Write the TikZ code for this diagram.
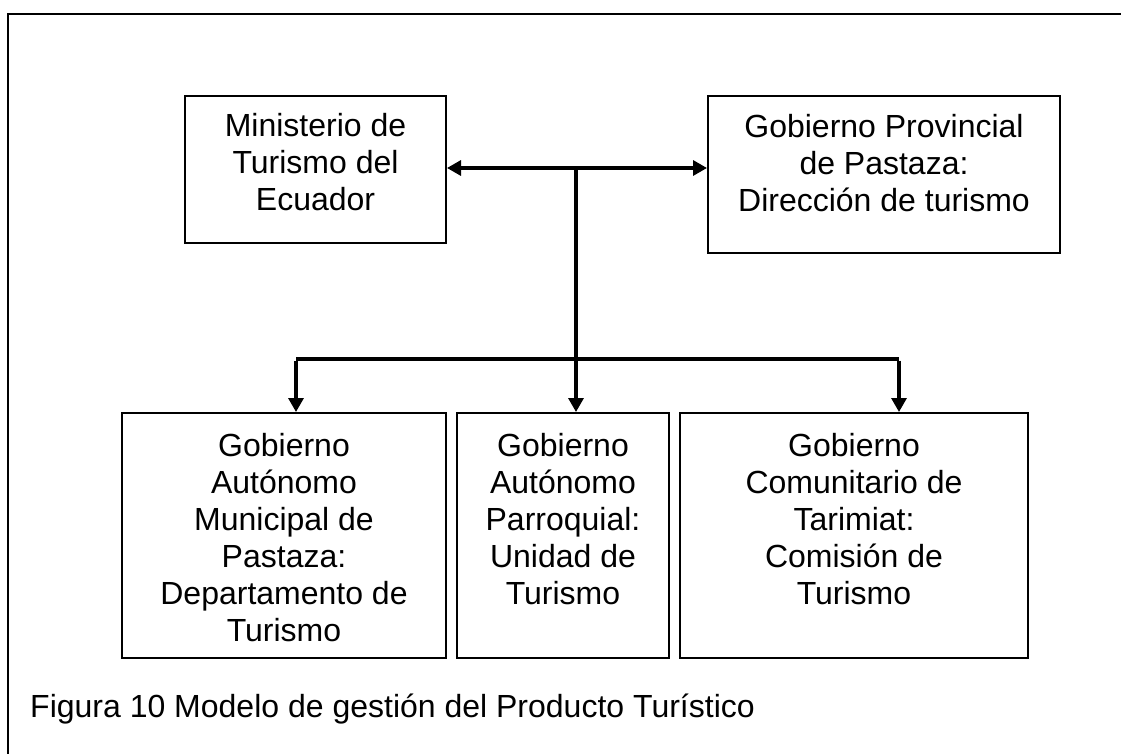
\documentclass[tikz,border=0pt]{standalone}
\usepackage{fontspec}
\setmainfont{Liberation Sans}
\usetikzlibrary{arrows.meta}
\begin{document}
\begin{tikzpicture}[x=1pt,y=-1pt,
  box/.style={draw, line width=2pt, inner sep=0pt},
  txt/.style={align=center, inner sep=0pt, anchor=north, font=\fontsize{32}{37}\selectfont},
  conn/.style={line width=3.2pt},
  arr/.style={line width=3.2pt, -{Triangle[length=14pt,width=15pt]}},
  darr/.style={line width=3.2pt, {Triangle[length=14pt,width=15pt]}-{Triangle[length=14pt,width=15pt]}}]
\useasboundingbox (0,0) rectangle (1121,754);
\fill[white] (0,0) rectangle (1121,754);
% outer frame
\draw[line width=1.8pt] (8,754) -- (8,14) -- (1121,14);
% top boxes
\node[box, minimum width=261pt, minimum height=147pt] (min) at (315.5,169.5) {};
\node[txt] (mint) at (315.5,113) {Ministerio de\\Turismo del\\Ecuador};
\node[box, minimum width=352pt, minimum height=157pt] (prov) at (884,174.5) {};
\node[txt] (provt) at (884,114) {Gobierno Provincial\\de Pastaza:\\Dirección de turismo};
% bottom boxes
\node[box, minimum width=324pt, minimum height=245pt] (b1) at (284,535.5) {};
\node[txt] (b1t) at (284,433) {Gobierno\\Autónomo\\Municipal de\\Pastaza:\\Departamento de\\Turismo};
\node[box, minimum width=212pt, minimum height=245pt] (b2) at (563,535.5) {};
\node[txt] (b2t) at (563,433) {Gobierno\\Autónomo\\Parroquial:\\Unidad de\\Turismo};
\node[box, minimum width=348pt, minimum height=245pt] (b3) at (854,535.5) {};
\node[txt] (b3t) at (854,433) {Gobierno\\Comunitario de\\Tarimiat:\\Comisión de\\Turismo};
% connectors
\coordinate (j) at (576,168);
\coordinate (h) at (576,359);
\coordinate (t1) at (296,359);
\coordinate (t3) at (899,359);
\draw[darr] (min.east |- j) -- (prov.west |- j);
\draw[conn] (j) -- (h);
\draw[conn] (t1) -- (t3);
\draw[arr] ([yshift=-1.6pt]t1) -- (t1 |- b1.north);
\draw[arr] (h) -- (h |- b2.north);
\draw[arr] ([yshift=-1.6pt]t3) -- (t3 |- b3.north);
% caption
\node[anchor=base west, inner sep=0pt, font=\fontsize{32}{37}\selectfont] (cap) at (30,717) {Figura 10 Modelo de gestión del Producto Turístico};
\end{tikzpicture}
\end{document}
